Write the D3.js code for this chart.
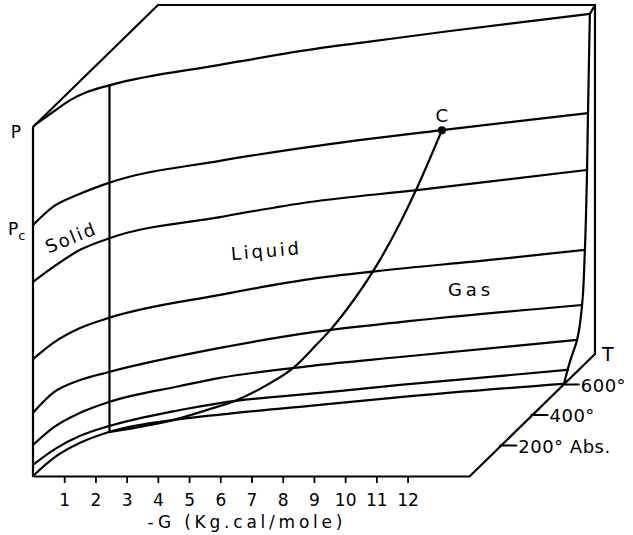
<!DOCTYPE html>
<html>
<head>
<meta charset="utf-8">
<script src="https://cdn.jsdelivr.net/npm/d3@7"></script>
<style>
body{margin:0;background:#fff;}
svg{display:block;font-family:"DejaVu Sans",sans-serif;}
.ln{fill:none;stroke:#000;stroke-width:2.2;stroke-linejoin:round;stroke-linecap:round;}
</style>
</head>
<body>
<svg id="chart" width="633" height="535"></svg>
<script>

// -G ticks (Kg.cal/mole) and temperature ticks (deg Abs.)
var gTicks = [1,2,3,4,5,6,7,8,9,10,11,12];
var tTicks = [200,400,600];
var tTickLabels = ['200° Abs.','400°','600°'];

// lines on the surface as [-G, P] (P in % of top P)
var lineTop = [[0.06,100.6],[0.64,104.3],[1.19,107.7],[1.73,110.0],[2.47,112.0],[5.99,117.8],[9.19,122.6],[10.48,124.1],[13.36,127.5],[17.84,132.4]];
var linePc  = [[0,71.9],[0.64,77.1],[1.41,80.5],[2.43,84.0],[5.99,90.3],[8.87,94.3],[13.10,99.1],[17.78,104.0]];
var line3   = [[0,55.6],[0.70,60.2],[1.51,64.8],[2.47,68.2],[5.99,74.2],[8.87,78.5],[12.30,81.9],[17.75,87.7]];
var line4   = [[0,33.5],[0.64,38.1],[1.51,42.4],[2.43,45.3],[5.99,51.9],[8.87,56.4],[11.02,58.7],[14.64,61.9],[17.68,64.8]];
var line5   = [[0,18.1],[0.64,23.8],[1.51,27.5],[2.43,29.8],[5.99,36.7],[9.03,41.3],[11.76,44.1],[17.59,49.0]];
var line6   = [[0,8.9],[0.64,13.8],[1.51,18.1],[2.43,21.2],[4.71,25.8],[5.99,28.1],[8.87,31.5],[11.76,34.1],[17.43,39.0]];
var line7   = [[0,3.2],[0.70,7.7],[1.51,11.5],[2.43,14.3],[4.71,18.9],[5.99,20.9],[9.19,23.8],[11.76,26.1],[17.14,30.4]];
var line8   = [[0,0],[0.70,5.4],[1.51,9.5],[2.43,12.6],[4.71,16.3],[5.99,17.6],[9.19,20.4],[11.76,22.6],[16.98,26.4]];

// liquid / gas boundary up to the critical point C
var vaporLine = [[2.47,12.6],[3.75,14.6],[4.71,16.6],[5.67,19.2],[6.54,21.8],[7.50,26.1],[8.33,30.9],[9.10,37.8],[9.52,41.8],[10.32,51.0],[11.02,60.5],[11.76,72.5],[12.30,82.5],[13.10,99.1]];
var critical = [13.10,99.1];

// solid / liquid boundary
var meltLine = [[2.45,12.6],[2.45,112.0]];

// right end of the surface
var rightEdge = [[17.84,132.4],[17.78,104.0],[17.75,87.7],[17.68,64.8],[17.59,49.0],[17.43,39.0],[17.20,32.7],[17.01,26.4]];

var svg = d3.select('#chart');

var x = d3.scaleLinear().domain([0,14]).range([33,470]);
var y = d3.scaleLinear().domain([0,100]).range([476,127]);
// depth (temperature) shifts the point up and right
var tx = d3.scaleLinear().domain([0,800]).range([0,125]);
var ty = d3.scaleLinear().domain([0,800]).range([0,122]);

function proj(g,t,p){
  return [x(g)+tx(t), y(p)-ty(t)];
}

var lineX = d3.line()
  .x(function(d){return x(d[0]);})
  .y(function(d){return y(d[1]);})
  .curve(d3.curveMonotoneX);
var lineY = d3.line()
  .x(function(d){return x(d[0]);})
  .y(function(d){return y(d[1]);})
  .curve(d3.curveMonotoneY);

// box edges, [-G, T, P]
var edges = [
  [[0,0,0],[0,0,100]],
  [[0,0,100],[0,800,100]],
  [[0,800,100],[14,800,100]],
  [[14,800,100],[14,800,0]],
  [[14,800,0],[14,0,0]]
];
svg.selectAll('line.edge')
  .data(edges)
  .enter().append('line')
  .attr('class','ln edge')
  .attr('x1',function(d){return proj.apply(null,d[0])[0];})
  .attr('y1',function(d){return proj.apply(null,d[0])[1];})
  .attr('x2',function(d){return proj.apply(null,d[1])[0];})
  .attr('y2',function(d){return proj.apply(null,d[1])[1];});

// short join from top surface line to the back corner
var corner = proj(14,800,100);
var topEnd = lineTop[lineTop.length-1];
svg.append('line').attr('class','ln')
  .attr('x1',x(topEnd[0])).attr('y1',y(topEnd[1]))
  .attr('x2',corner[0]).attr('y2',corner[1]);

// bottom axis (its domain is the front bottom edge)
var xAxis = d3.axisBottom(x)
  .tickValues(gTicks)
  .tickSize(7)
  .tickSizeOuter(0)
  .tickPadding(11)
  .tickFormat(d3.format('d'));
var ax = svg.append('g').attr('transform','translate(0,'+y(0)+')').call(xAxis);
ax.select('.domain').attr('stroke-width',2.2);
ax.selectAll('.tick line').attr('stroke-width',1.8);
ax.selectAll('.tick text').attr('font-size',17).attr('font-family','DejaVu Sans');

svg.append('text')
  .attr('x',245).attr('y',528)
  .attr('text-anchor','middle')
  .attr('font-size',17)
  .attr('textLength',195)
  .attr('lengthAdjust','spacing')
  .text('-G (Kg.cal/mole)');

// surface lines
var surface = [lineTop,linePc,line3,line4,line5,line6,line7,line8,vaporLine,meltLine];
svg.selectAll('path.surf')
  .data(surface)
  .enter().append('path')
  .attr('class','ln surf')
  .attr('d',lineX);
svg.append('path').attr('class','ln').attr('d',lineY(rightEdge));

// critical point
svg.append('circle')
  .attr('cx',x(critical[0])).attr('cy',y(critical[1]))
  .attr('r',4).attr('fill','#000');
svg.append('text')
  .attr('x',x(critical[0])).attr('y',y(critical[1])-8)
  .attr('text-anchor','middle').attr('font-size',18)
  .text('C');

// temperature axis ticks
svg.selectAll('line.tt')
  .data(tTicks)
  .enter().append('line')
  .attr('class','ln tt')
  .attr('x1',function(d){return proj(14,d,0)[0]-1;})
  .attr('x2',function(d){return proj(14,d,0)[0]+15;})
  .attr('y1',function(d){return proj(14,d,0)[1];})
  .attr('y2',function(d){return proj(14,d,0)[1];});
svg.selectAll('text.tt')
  .data(tTicks)
  .enter().append('text')
  .attr('class','tt')
  .attr('x',function(d){return proj(14,d,0)[0]+17;})
  .attr('y',function(d){return proj(14,d,0)[1]+7;})
  .attr('font-size',18)
  .attr('letter-spacing',0.5)
  .text(function(d,i){return tTickLabels[i];});

var tEnd = proj(14,800,0);
svg.append('text')
  .attr('x',tEnd[0]+7).attr('y',tEnd[1]+7)
  .attr('font-size',19)
  .text('T');

// P labels
svg.append('text')
  .attr('x',x(0)-17).attr('y',y(100)+11)
  .attr('text-anchor','middle').attr('font-size',17)
  .text('P');
var pc = svg.append('text')
  .attr('x',x(0)-25).attr('y',y(linePc[0][1])+10)
  .attr('font-size',17);
pc.append('tspan').text('P');
pc.append('tspan').attr('font-size',13).attr('dy',5).text('c');

// region labels
function regionLabel(txt,g,p,angle,len){
  svg.append('text')
    .attr('transform','translate('+x(g)+','+y(p)+') rotate('+angle+')')
    .attr('text-anchor','middle')
    .attr('dy','0.35em')
    .attr('font-size',18)
    .attr('textLength',len)
    .attr('lengthAdjust','spacing')
    .text(txt);
}
regionLabel('Solid',1.19,68.2,-22,52);
regionLabel('Liquid',7.43,64.5,-5,68);
regionLabel('Gas',13.97,53.3,0,42);

</script>
</body>
</html>
